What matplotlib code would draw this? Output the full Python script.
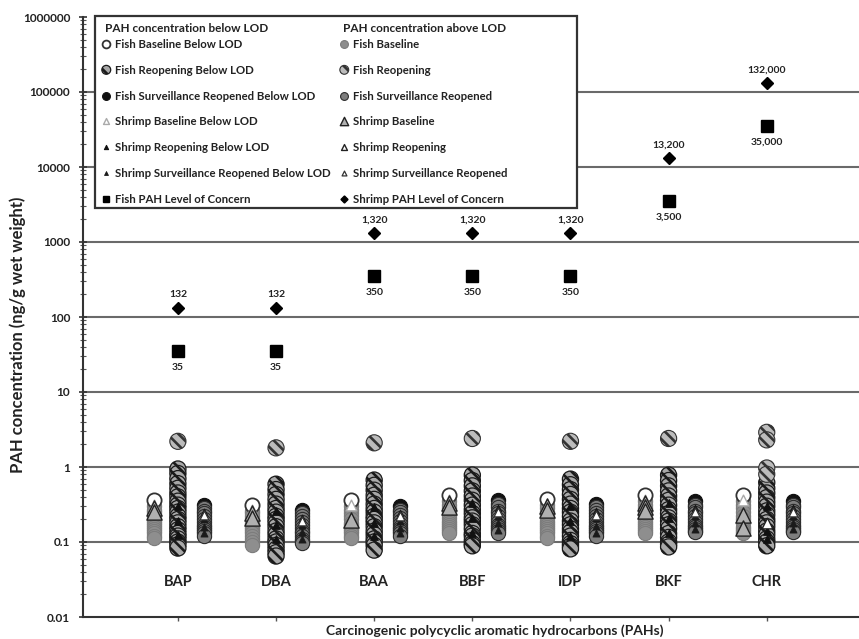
import matplotlib
matplotlib.use('Agg')
import matplotlib.pyplot as plt
from matplotlib.patches import Rectangle
from matplotlib.ticker import FixedLocator, FixedFormatter, LogLocator, NullFormatter

plt.rcParams['font.family'] = ['Lato', 'DejaVu Sans']
plt.rcParams['hatch.linewidth'] = 1.9
plt.rcParams['hatch.color'] = '#1a1a1a'

# ---------------- data ----------------
categories = ['BAP', 'DBA', 'BAA', 'BBF', 'IDP', 'BKF', 'CHR']

fish_loc = [35, 35, 350, 350, 350, 3500, 35000]
shrimp_loc = [132, 132, 1320, 1320, 1320, 13200, 132000]

# Baseline cluster
fish_baseline_below = [[0.36], [0.31], [0.36], [0.42], [0.37], [0.42], [0.42]]
fish_baseline = [
    [0.30, 0.27, 0.25, 0.23, 0.21, 0.19, 0.18, 0.17, 0.16, 0.15, 0.14, 0.13, 0.12, 0.113],
    [0.26, 0.24, 0.22, 0.20, 0.18, 0.17, 0.16, 0.15, 0.14, 0.13, 0.12, 0.11, 0.10, 0.091],
    [0.30, 0.27, 0.24, 0.22, 0.20, 0.18, 0.17, 0.16, 0.15, 0.14, 0.13, 0.12, 0.113],
    [0.35, 0.31, 0.28, 0.25, 0.23, 0.21, 0.19, 0.18, 0.17, 0.16, 0.15, 0.14, 0.13],
    [0.31, 0.28, 0.25, 0.23, 0.21, 0.19, 0.18, 0.17, 0.16, 0.15, 0.14, 0.13, 0.12, 0.113],
    [0.35, 0.31, 0.28, 0.25, 0.23, 0.21, 0.19, 0.18, 0.17, 0.16, 0.15, 0.14, 0.13],
    [0.35, 0.31, 0.28, 0.25, 0.22, 0.20, 0.18, 0.16, 0.15, 0.14, 0.13],
]
shrimp_baseline_below = [[0.31], [0.27], [0.31], [0.36], [0.32], [0.36], [0.36]]
shrimp_baseline = [
    [0.28, 0.25], [0.24, 0.21], [0.196], [0.33, 0.29], [0.30, 0.27], [0.33, 0.29, 0.26], [0.23, 0.153],
]

# Reopening cluster
fish_reopening_below = [
    [0.94, 0.82, 0.70, 0.60, 0.52, 0.45, 0.40, 0.35, 0.31, 0.28, 0.25, 0.22, 0.20, 0.18, 0.16, 0.145,
     0.13, 0.12, 0.11, 0.10, 0.092, 0.083],
    [0.59, 0.50, 0.43, 0.37, 0.32, 0.28, 0.25, 0.22, 0.20, 0.18, 0.16, 0.14, 0.125, 0.11, 0.10, 0.09,
     0.08, 0.072, 0.065],
    [0.67, 0.57, 0.49, 0.42, 0.37, 0.32, 0.28, 0.25, 0.22, 0.20, 0.18, 0.16, 0.14, 0.125, 0.11, 0.10,
     0.09, 0.078],
    [0.78, 0.66, 0.56, 0.48, 0.41, 0.36, 0.31, 0.27, 0.24, 0.21, 0.19, 0.17, 0.15, 0.13, 0.12, 0.105,
     0.095, 0.089],
    [0.69, 0.58, 0.50, 0.43, 0.37, 0.32, 0.28, 0.25, 0.22, 0.19, 0.17, 0.15, 0.135, 0.12, 0.105, 0.095,
     0.088, 0.081],
    [0.78, 0.66, 0.56, 0.48, 0.41, 0.36, 0.31, 0.27, 0.24, 0.21, 0.19, 0.17, 0.15, 0.13, 0.115, 0.10,
     0.093, 0.086],
    [0.62, 0.52, 0.45, 0.39, 0.34, 0.30, 0.26, 0.23, 0.20, 0.18, 0.16, 0.14, 0.125, 0.11, 0.10, 0.089],
]
fish_reopening = [[2.2], [1.8], [2.1], [2.4], [2.2], [2.4], [2.9, 2.3, 0.97, 0.80]]
shrimp_reopening_below = [
    [0.30, 0.19, 0.125], [0.26, 0.17, 0.11], [0.29, 0.18, 0.12], [0.33, 0.21, 0.13],
    [0.30, 0.19, 0.12], [0.33, 0.21, 0.13], [0.30, 0.14, 0.11],
]
shrimp_reopening = [[], [], [], [], [], [], [0.18]]

# Surveillance cluster
fish_surv_below = [[0.31], [0.27], [0.30], [0.36], [0.32], [0.35], [0.35]]
fish_surv = [
    [0.28, 0.26, 0.24, 0.22, 0.20, 0.185, 0.17, 0.16, 0.15, 0.14, 0.13, 0.12],
    [0.245, 0.22, 0.20, 0.185, 0.17, 0.155, 0.14, 0.13, 0.12, 0.11, 0.104, 0.097],
    [0.27, 0.25, 0.23, 0.21, 0.19, 0.175, 0.16, 0.15, 0.14, 0.13, 0.12],
    [0.32, 0.29, 0.26, 0.24, 0.22, 0.20, 0.185, 0.17, 0.16, 0.15, 0.14, 0.13],
    [0.29, 0.27, 0.245, 0.22, 0.20, 0.185, 0.17, 0.16, 0.15, 0.14, 0.13, 0.12],
    [0.31, 0.29, 0.26, 0.24, 0.22, 0.20, 0.185, 0.17, 0.16, 0.15, 0.14, 0.136],
    [0.31, 0.29, 0.26, 0.24, 0.22, 0.20, 0.185, 0.17, 0.16, 0.15, 0.14, 0.136],
]
shrimp_surv_below = [
    [0.25, 0.20, 0.16, 0.13], [0.21, 0.17, 0.135, 0.11], [0.24, 0.19, 0.155, 0.13],
    [0.28, 0.22, 0.18, 0.145], [0.26, 0.21, 0.165, 0.13], [0.28, 0.22, 0.18, 0.15],
    [0.28, 0.22, 0.18, 0.15],
]
shrimp_surv = [[0.23], [0.19], [0.22], [0.25], [0.23], [0.25], [0.25]]

y_ticks = [0.01, 0.1, 1, 10, 100, 1000, 10000, 100000, 1000000]
y_tick_labels = ['0.01', '0.1', '1', '10', '100', '1000', '10000', '100000', '1000000']

# ---------------- figure ----------------
W, H = 859, 639
fig = plt.figure(figsize=(W / 100, H / 100), dpi=100)
ax_left, ax_bottom_px, ax_top_px = 82.7, 617, 17
ax = fig.add_axes([ax_left / W, 1 - ax_bottom_px / H, (W - ax_left) / W, (ax_bottom_px - ax_top_px) / H])
ax.set_yscale('log')
ax.set_ylim(0.01, 1000000)
ax.set_xlim(0.03, 7.94)

OFF_BASE, OFF_REOPEN, OFF_SURV = -0.24, 0.0, 0.265


def cluster(data, offset, **kw):
    xs, ys = [], []
    for i, vals in enumerate(data):
        xs += [i + 1 + offset] * len(vals)
        ys += list(vals)
    return ax.scatter(xs, ys, **kw)


# baseline
h_fb = cluster(fish_baseline, OFF_BASE, s=105, marker='o', facecolor='#8e8e8e',
               edgecolor='#7c7c7c', linewidths=0.8, zorder=3)
h_fbb = cluster(fish_baseline_below, OFF_BASE, s=105, marker='o', facecolor='white',
                edgecolor='#333333', linewidths=1.3, zorder=3.1)
h_sbb = cluster(shrimp_baseline_below, OFF_BASE, s=60, marker='^', facecolor='white',
                edgecolor='#aaaaaa', linewidths=1.0, zorder=3.3)
h_sb = cluster(shrimp_baseline, OFF_BASE, s=120, marker='^', facecolor='#b0b0b0',
               edgecolor='#222222', linewidths=1.0, zorder=3.4)

# reopening
h_frb = cluster(fish_reopening_below, OFF_REOPEN, s=135, marker='o', facecolor='#a8a8a8',
                edgecolor='#1a1a1a', hatch='\\\\\\', linewidths=0.9, zorder=3)
h_fr = cluster(fish_reopening, OFF_REOPEN, s=135, marker='o', facecolor='#bcbcbc',
               edgecolor='#333333', hatch='\\\\\\', linewidths=0.8, zorder=3.1)
h_srb = cluster(shrimp_reopening_below, OFF_REOPEN, s=30, marker='^', facecolor='#111111',
                edgecolor='#111111', linewidths=0.8, zorder=3.3)
h_sr = cluster(shrimp_reopening, OFF_REOPEN, s=60, marker='^', facecolor='white',
               edgecolor='#222222', linewidths=1.0, zorder=3.4)

# surveillance
h_fs = cluster(fish_surv, OFF_SURV, s=105, marker='o', facecolor='#7e7e7e',
               edgecolor='#2c2c2c', linewidths=0.8, zorder=3)
h_fsb = cluster(fish_surv_below, OFF_SURV, s=105, marker='o', facecolor='#111111',
                edgecolor='#111111', linewidths=0.8, zorder=2.9)
h_ssb = cluster(shrimp_surv_below, OFF_SURV, s=26, marker='^', facecolor='#1a1a1a',
                edgecolor='#1a1a1a', linewidths=0.6, zorder=3.3)
h_ss = cluster(shrimp_surv, OFF_SURV, s=40, marker='^', facecolor='white',
               edgecolor='#333333', linewidths=0.9, zorder=3.4)

# levels of concern
xpos = list(range(1, len(categories) + 1))
h_floc, = ax.plot(xpos, fish_loc, linestyle='none', marker='s', markersize=8.5,
                  color='black', zorder=4)
h_sloc, = ax.plot(xpos, shrimp_loc, linestyle='none', marker='D', markersize=6.5,
                  color='black', zorder=4)
for x, v in zip(xpos, shrimp_loc):
    ax.annotate(f'{v:,}', (x, v), xytext=(0, 9.5), textcoords='offset points',
                ha='center', va='center', fontsize=7.5, weight='bold', color='#222222')
for x, v in zip(xpos, fish_loc):
    ax.annotate(f'{v:,}', (x, v), xytext=(0, -11.5), textcoords='offset points',
                ha='center', va='center', fontsize=7.5, weight='bold', color='#222222')

# category names inside the plot
for x, name in zip(xpos, categories):
    ax.text(x, 0.0293, name, ha='center', va='center', fontsize=10.5, weight='bold',
            color='#222222')

# axes styling
ax.yaxis.set_major_locator(FixedLocator(y_ticks))
ax.yaxis.set_major_formatter(FixedFormatter(y_tick_labels))
ax.yaxis.set_minor_locator(LogLocator(base=10, subs=range(2, 10), numticks=20))
ax.yaxis.set_minor_formatter(NullFormatter())
ax.set_xticks(xpos)
ax.set_xticklabels([''] * len(xpos))
ax.tick_params(axis='y', which='major', direction='inout', length=6, width=1.2,
               color='#333333', pad=6, labelsize=8.5, labelcolor='#222222')
ax.tick_params(axis='y', which='minor', direction='inout', length=4, width=0.8, color='#555555')
ax.tick_params(axis='x', which='major', direction='out', length=3, width=1.0, color='#555555')
for lab in ax.get_yticklabels():
    lab.set_fontweight('bold')

for side in ['top', 'right']:
    ax.spines[side].set_visible(False)
for side in ['left', 'bottom']:
    ax.spines[side].set_color('#333333')
    ax.spines[side].set_linewidth(1.5)

ax.grid(axis='y', which='major', color='#6a6a6a', linewidth=1.5, zorder=0)
ax.set_axisbelow(True)
for gl, t in zip(ax.yaxis.get_gridlines(), y_ticks):
    if t in (y_ticks[0], y_ticks[-1]):
        gl.set_visible(False)

ax.set_ylabel('PAH concentration (ng/g wet weight)', fontsize=12, weight='bold', color='#222222')
ax.yaxis.set_label_coords((26 - ax_left) / (W - ax_left), 0.47)
ax.set_xlabel('Carcinogenic polycyclic aromatic hydrocarbons (PAHs)', fontsize=10,
              weight='bold', color='#222222')
ax.xaxis.set_label_coords((495 - ax_left) / (W - ax_left), -0.0125)

# legend box
fig.add_artist(Rectangle((95 / W, 1 - 208 / H), (577 - 95) / W, (208 - 16) / H,
                         transform=fig.transFigure, facecolor='white', edgecolor='#333333',
                         linewidth=1.6, zorder=2))
fig.text(105 / W, 1 - 29 / H, 'PAH concentration below LOD', fontsize=8.5, weight='bold',
         va='center', ha='left', color='#222222', zorder=6)
fig.text(343 / W, 1 - 29 / H, 'PAH concentration above LOD', fontsize=8.5, weight='bold',
         va='center', ha='left', color='#222222', zorder=6)

leg_kw = dict(loc='upper left', bbox_transform=fig.transFigure, frameon=False, borderpad=0,
              borderaxespad=0, handlelength=0.75, handletextpad=0.4, labelspacing=1.30,
              scatterpoints=1, scatteryoffsets=[0.5], markerscale=0.55,
              prop={'weight': 'bold', 'size': 8.2}, labelcolor='#222222')
leg1 = fig.legend(handles=[h_fbb, h_frb, h_fsb, h_sbb, h_srb, h_ssb, h_floc],
                  labels=['Fish Baseline Below LOD', 'Fish Reopening Below LOD',
                          'Fish Surveillance Reopened Below LOD', 'Shrimp Baseline Below LOD',
                          'Shrimp Reopening Below LOD', 'Shrimp Surveillance Reopened Below LOD',
                          'Fish PAH Level of Concern'],
                  bbox_to_anchor=(102 / W, 1 - 39 / H), **leg_kw)
leg1.set_zorder(7)
leg2 = fig.legend(handles=[h_fb, h_fr, h_fs, h_sb, h_sr, h_ss, h_sloc],
                  labels=['Fish Baseline', 'Fish Reopening', 'Fish Surveillance Reopened',
                          'Shrimp Baseline', 'Shrimp Reopening', 'Shrimp Surveillance Reopened',
                          'Shrimp PAH Level of Concern'],
                  bbox_to_anchor=(340 / W, 1 - 39 / H), **leg_kw)
leg2.set_zorder(7)

fig.savefig('out.png', dpi=100)
